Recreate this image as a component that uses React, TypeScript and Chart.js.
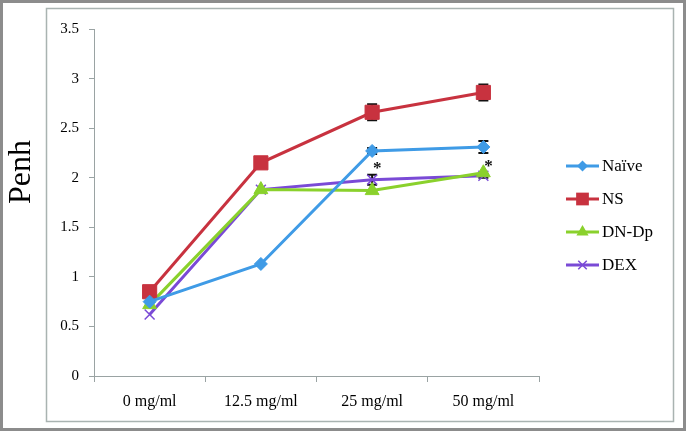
import React, { useEffect, useRef } from "react";
import { Chart, registerables } from "chart.js";

Chart.register(...registerables);

const categories = ["0 mg/ml", "12.5 mg/ml", "25 mg/ml", "50 mg/ml"];
const seriesNames = ["Naïve", "NS", "DN-Dp", "DEX"];
const naive = [0.75, 1.13, 2.27, 2.31];
const ns = [0.85, 2.15, 2.66, 2.86];
const dnDp = [0.72, 1.88, 1.87, 2.05];
const dex = [0.62, 1.88, 1.98, 2.02];
const naiveErr = [0, 0, 0.03, 0.06];
const nsErr = [0, 0, 0.08, 0.08];
const dnDpErr = [0, 0, 0, 0];
const dexErr = [0, 0, 0.05, 0.02];
const asterisks = [null, null, 2.12, 2.14];
const yTicks = [0, 0.5, 1, 1.5, 2, 2.5, 3, 3.5];

const colors = ["#3f9be6", "#c8323f", "#8ad12c", "#7a4ad6"];
const pointStyles = ["rectRot", "rect", "triangle", "crossRot"];
const pointRadii = [6.5, 10, 8, 7];
const seriesData = [naive, ns, dnDp, dex];
const seriesErr = [naiveErr, nsErr, dnDpErr, dexErr];

const FONT = "'Liberation Serif', 'Times New Roman', serif";

function drawMarker(ctx: CanvasRenderingContext2D, style: string, r: number, x: number, y: number) {
  ctx.beginPath();
  if (style === "rect") {
    const s = r * Math.SQRT1_2;
    ctx.rect(x - s, y - s, 2 * s, 2 * s);
    ctx.fill();
  } else if (style === "rectRot") {
    ctx.moveTo(x, y - r);
    ctx.lineTo(x + r, y);
    ctx.lineTo(x, y + r);
    ctx.lineTo(x - r, y);
    ctx.closePath();
    ctx.fill();
  } else if (style === "triangle") {
    ctx.moveTo(x, y - r);
    ctx.lineTo(x + r * 0.87, y + r * 0.5);
    ctx.lineTo(x - r * 0.87, y + r * 0.5);
    ctx.closePath();
    ctx.fill();
  } else {
    const s = r * Math.SQRT1_2;
    ctx.moveTo(x - s, y - s);
    ctx.lineTo(x + s, y + s);
    ctx.moveTo(x + s, y - s);
    ctx.lineTo(x - s, y + s);
    ctx.stroke();
  }
}

const framePlugin = {
  id: "frame",
  beforeDraw(chart: any) {
    const ctx = chart.ctx;
    ctx.save();
    ctx.fillStyle = "#ffffff";
    ctx.fillRect(0, 0, chart.width, chart.height);
    ctx.strokeStyle = "#8c8c8c";
    ctx.lineWidth = 3;
    ctx.strokeRect(1.5, 1.5, chart.width - 3, chart.height - 3);
    ctx.strokeStyle = "#a9b3b1";
    ctx.lineWidth = 1.5;
    ctx.strokeRect(46.5, 8.5, 627, 413);
    ctx.fillStyle = "#000";
    ctx.font = `32px ${FONT}`;
    ctx.translate(22, 172);
    ctx.rotate(-Math.PI / 2);
    ctx.textAlign = "center";
    ctx.textBaseline = "middle";
    ctx.fillText("Penh", 0, 0);
    ctx.restore();
  },
};

const extrasPlugin = {
  id: "extras",
  beforeDatasetsDraw(chart: any) {
    const ctx = chart.ctx;
    const xs = chart.scales.x;
    const ys = chart.scales.y;
    ctx.save();
    ctx.strokeStyle = "#111";
    ctx.lineWidth = 2;
    seriesData.forEach((vals, si) => {
      vals.forEach((v, i) => {
        const e = seriesErr[si][i];
        if (!e) return;
        const x = xs.getPixelForValue(i);
        const y1 = ys.getPixelForValue(v + e);
        const y2 = ys.getPixelForValue(v - e);
        ctx.beginPath();
        ctx.moveTo(x, y1);
        ctx.lineTo(x, y2);
        ctx.moveTo(x - 5, y1);
        ctx.lineTo(x + 5, y1);
        ctx.moveTo(x - 5, y2);
        ctx.lineTo(x + 5, y2);
        ctx.stroke();
      });
    });
    ctx.restore();
  },
  afterDatasetsDraw(chart: any) {
    const ctx = chart.ctx;
    const xs = chart.scales.x;
    const ys = chart.scales.y;
    ctx.save();
    ctx.fillStyle = "#111";
    ctx.font = `bold 17px ${FONT}`;
    ctx.textAlign = "center";
    ctx.textBaseline = "middle";
    asterisks.forEach((v, i) => {
      if (v == null) return;
      ctx.fillText("*", xs.getPixelForValue(i) + 5, ys.getPixelForValue(v) + 3);
    });
    ctx.restore();
  },
  afterDraw(chart: any) {
    const ctx = chart.ctx;
    const area = chart.chartArea;
    const lx = area.right + 27;
    const ly = area.top + 137;
    ctx.save();
    seriesNames.forEach((name, i) => {
      const y = ly + i * 33;
      ctx.strokeStyle = colors[i];
      ctx.lineWidth = 3;
      ctx.beginPath();
      ctx.moveTo(lx, y);
      ctx.lineTo(lx + 33, y);
      ctx.stroke();
      ctx.fillStyle = colors[i];
      ctx.lineWidth = 1.5;
      drawMarker(ctx, pointStyles[i], pointRadii[i] - 1, lx + 16.5, y);
      ctx.fillStyle = "#000";
      ctx.font = `17px ${FONT}`;
      ctx.textAlign = "left";
      ctx.textBaseline = "middle";
      ctx.fillText(name, lx + 36, y + 1);
    });
    ctx.restore();
  },
};

export default function App() {
  const ref = useRef<HTMLCanvasElement>(null);
  useEffect(() => {
    if (!ref.current) return;
    const chart = new Chart(ref.current, {
      type: "line",
      data: {
        labels: categories,
        datasets: seriesNames.map((name, i) => ({
          label: name,
          data: seriesData[i],
          borderColor: colors[i],
          backgroundColor: colors[i],
          pointStyle: pointStyles[i] as any,
          pointRadius: pointRadii[i],
          pointBorderWidth: i === 3 ? 1.5 : 1,
          borderWidth: 3,
          tension: 0,
        })),
      },
      options: {
        responsive: false,
        animation: false,
        layout: { padding: { left: 0, top: 29, right: 147, bottom: 0 } },
        plugins: { legend: { display: false }, tooltip: { enabled: false } },
        scales: {
          x: {
            offset: true,
            grid: {
              offset: true,
              drawOnChartArea: false,
              drawTicks: true,
              tickLength: 6,
              color: "#9aa3a3",
            },
            border: { display: true, color: "#9aa3a3", width: 1 },
            ticks: {
              color: "#000",
              font: { family: FONT, size: 16 },
              padding: 10,
              maxRotation: 0,
            },
            afterFit: (s: any) => {
              s.height = 55;
            },
          },
          y: {
            min: 0,
            max: 3.5,
            afterBuildTicks: (s: any) => {
              s.ticks = yTicks.map((v) => ({ value: v }));
            },
            grid: {
              drawOnChartArea: false,
              drawTicks: true,
              tickLength: 5,
              color: "#9aa3a3",
            },
            border: { display: true, color: "#9aa3a3", width: 1 },
            ticks: {
              color: "#000",
              font: { family: FONT, size: 15 },
              padding: 10,
              callback: (v: any) => String(v),
            },
            afterFit: (s: any) => {
              s.width = 94;
            },
          },
        },
      },
      plugins: [framePlugin, extrasPlugin],
    });
    return () => chart.destroy();
  }, []);
  return (
    <div style={{ position: "fixed", left: 0, top: 0, width: 686, height: 431 }}>
      <canvas ref={ref} width={686} height={431} />
    </div>
  );
}
